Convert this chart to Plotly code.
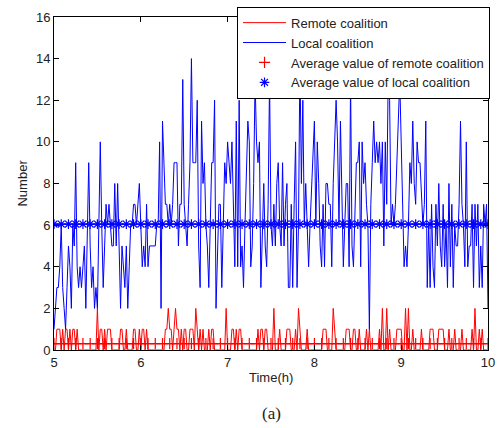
import numpy as np
import plotly.graph_objects as go

# ---- data ----
# one sample per minute from 5:00 to 10:00
minutes = list(range(301))

local_coalition = [
    1, 2, 3, 3, 4, 6, 3, 2, 1, 3,
    5, 4, 2, 6, 5, 9, 4, 3, 4, 3,
    4, 5, 2, 6, 9, 5, 3, 4, 2, 3,
    2, 6, 10, 6, 3, 5, 7, 6, 7, 6,
    5, 5, 8, 5, 8, 5, 2, 5, 4, 3,
    5, 2, 4, 6, 6, 7, 7, 6, 7, 8,
    6, 4, 5, 4, 7, 4, 5, 5, 5, 5,
    5, 6, 6, 10, 2, 11, 9, 7, 7, 6,
    7, 6, 7, 9, 9, 9, 5, 7, 7, 13,
    7, 6, 5, 7, 9, 14, 9, 9, 9, 12,
    5, 3, 11, 8, 9, 6, 5, 3, 6, 9,
    9, 12, 2, 5, 7, 7, 3, 6, 9, 8,
    10, 9, 8, 10, 6, 4, 11, 4, 12, 4,
    5, 3, 6, 8, 11, 10, 4, 5, 8, 13,
    10, 9, 10, 3, 6, 8, 5, 4, 7, 13,
    6, 5, 7, 5, 8, 9, 6, 5, 9, 5,
    7, 8, 3, 3, 7, 3, 7, 10, 3, 6,
    14, 8, 12, 6, 8, 6, 4, 6, 8, 9,
    11, 6, 10, 8, 5, 4, 7, 4, 8, 8,
    7, 7, 4, 8, 10, 12, 10, 6, 11, 7,
    4, 6, 8, 8, 4, 13, 5, 4, 7, 9,
    9, 10, 4, 10, 8, 9, 7, 6, 1, 7,
    9, 11, 9, 10, 9, 10, 8, 10, 5, 10,
    7, 13, 12, 6, 7, 6, 7, 9, 12, 13,
    10, 7, 4, 5, 4, 6, 9, 8, 11, 8,
    7, 10, 9, 9, 7, 6, 7, 11, 3, 6,
    3, 7, 4, 3, 7, 5, 8, 5, 4, 7,
    4, 6, 3, 8, 4, 7, 3, 6, 5, 5,
    7, 11, 7, 6, 4, 10, 4, 5, 5, 7,
    3, 7, 5, 7, 3, 5, 3, 7, 6, 7,
    2,
]

remote_coalition = [
    0, 0, 1, 1, 1, 0, 1, 0, 1, 1,
    0, 1, 0, 1, 1, 0, 1, 0, 0, 0,
    0, 0, 0, 0, 0, 0, 0, 0, 0, 0,
    2, 0, 1, 1, 0, 1, 0, 1, 1, 1,
    0, 0, 0, 0, 0, 0, 1, 1, 0, 0,
    1, 0, 0, 0, 0, 1, 1, 0, 0, 1,
    0, 1, 1, 0, 1, 0, 0, 0, 0, 0,
    0, 0, 0, 0, 0, 0, 0, 1, 1, 2,
    1, 1, 0, 1, 2, 1, 1, 0, 1, 0,
    1, 1, 0, 0, 1, 1, 1, 0, 2, 1,
    0, 1, 0, 1, 0, 0, 0, 1, 0, 1,
    1, 0, 0, 0, 0, 0, 0, 0, 0, 2,
    0, 0, 0, 1, 1, 0, 1, 0, 1, 1,
    0, 0, 0, 0, 0, 0, 0, 0, 0, 0,
    0, 1, 0, 1, 1, 0, 1, 1, 0, 0,
    0, 0, 2, 0, 0, 0, 1, 0, 0, 0,
    0, 1, 1, 1, 0, 0, 0, 1, 0, 2,
    1, 0, 0, 0, 0, 1, 0, 0, 0, 0,
    0, 0, 0, 0, 0, 0, 1, 1, 1, 0,
    0, 0, 0, 2, 1, 0, 0, 0, 0, 0,
    0, 0, 1, 1, 1, 0, 0, 1, 1, 0,
    0, 1, 0, 0, 0, 0, 1, 0, 1, 0,
    0, 0, 0, 0, 0, 1, 0, 2, 0, 0,
    2, 0, 1, 0, 0, 0, 0, 1, 1, 1,
    1, 0, 0, 2, 0, 2, 0, 0, 1, 0,
    0, 0, 0, 0, 1, 0, 0, 0, 0, 0,
    1, 1, 1, 0, 0, 0, 1, 1, 1, 1,
    0, 0, 0, 1, 0, 0, 0, 1, 0, 0,
    0, 0, 1, 0, 0, 0, 0, 0, 0, 1,
    0, 2, 0, 0, 1, 0, 1, 0, 0, 0,
    0,
]

avg_remote = 0.31
avg_local = 6.05

x_ticks = [5, 6, 7, 8, 9, 10]
y_ticks = [0, 2, 4, 6, 8, 10, 12, 14, 16]

# ---- build ----
t = [5 + m / 60 for m in minutes]
t_mark = t[::5]

RED = "#ff0000"
BLUE = "#0000ff"

fig = go.Figure()
fig.add_trace(go.Scatter(x=t, y=remote_coalition, mode="lines",
                         line=dict(color=RED, width=1), name="Remote coalition"))
fig.add_trace(go.Scatter(x=t, y=local_coalition, mode="lines",
                         line=dict(color=BLUE, width=1), name="Local coalition"))
fig.add_trace(go.Scatter(x=t, y=[avg_remote] * len(t), mode="lines",
                         line=dict(color=RED, width=1.3), showlegend=False, hoverinfo="skip"))
fig.add_trace(go.Scatter(x=t_mark, y=[avg_remote] * len(t_mark), mode="markers",
                         marker=dict(symbol="cross-thin", size=8, color=RED,
                                     line=dict(color=RED, width=1.2)),
                         name="Average value of remote coalition"))
fig.add_trace(go.Scatter(x=t, y=[avg_local] * len(t), mode="lines",
                         line=dict(color=BLUE, width=1.3), showlegend=False, hoverinfo="skip"))
fig.add_trace(go.Scatter(x=t_mark, y=[avg_local] * len(t_mark), mode="markers",
                         marker=dict(symbol="asterisk-open", size=8, color=BLUE,
                                     line=dict(color=BLUE, width=1.2)),
                         name="Average value of local coalition"))

axis_common = dict(showline=True, linecolor="black", linewidth=1, mirror="ticks",
                   ticks="inside", ticklen=5, tickcolor="black", tickwidth=1,
                   showgrid=False, zeroline=False,
                   tickfont=dict(family="Liberation Sans, Arial", size=13, color="#222"))

fig.update_xaxes(range=[5, 10], tickvals=x_ticks, **axis_common)
fig.update_yaxes(range=[0, 16.0001], tickvals=y_ticks, **axis_common)

fig.update_layout(
    width=501, height=428,
    margin=dict(l=54, r=13, t=7, b=78),
    paper_bgcolor="white", plot_bgcolor="white",
    legend=dict(x=0.4217, y=1.031, xanchor="left", yanchor="top",
                bgcolor="white", bordercolor="black", borderwidth=1,
                font=dict(family="Liberation Sans, Arial", size=13, color="#222"),
                itemwidth=43, tracegroupgap=0),
    annotations=[
        dict(text="Time(h)", x=0.5, y=-0.0816, xref="paper", yref="paper",
             showarrow=False, xanchor="center", yanchor="middle",
             font=dict(family="Liberation Sans, Arial", size=13, color="#222")),
        dict(text="Number", x=-0.0737, y=0.5, xref="paper", yref="paper",
             showarrow=False, xanchor="center", yanchor="middle", textangle=-90,
             font=dict(family="Liberation Sans, Arial", size=13, color="#222")),
        dict(text="(a)", x=0.5, y=-0.192, xref="paper", yref="paper",
             showarrow=False, xanchor="center", yanchor="middle",
             font=dict(family="Liberation Serif, Times New Roman", size=17, color="#222")),
    ],
)

fig.write_html("out.html", config={"displayModeBar": False},
               post_script="document.body.style.margin='0px';document.body.style.padding='0px';")
